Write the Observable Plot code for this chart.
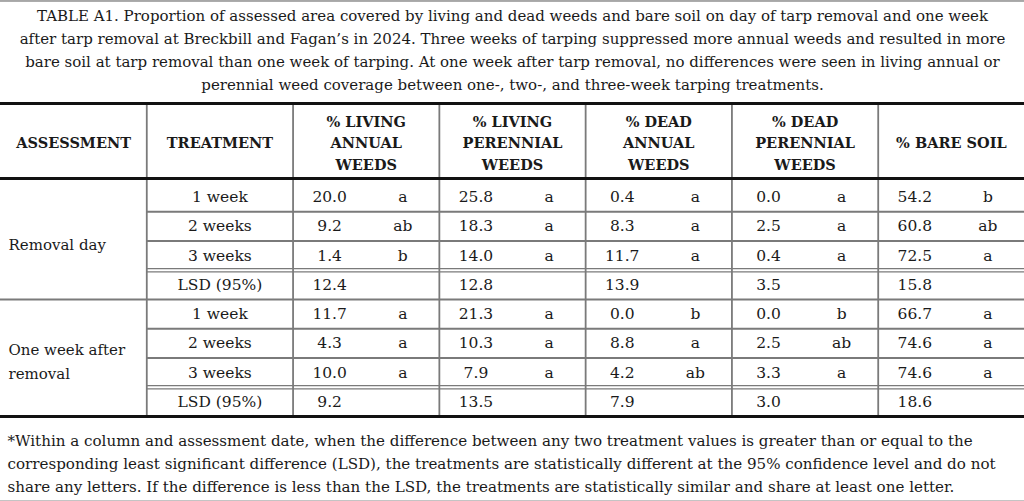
<!DOCTYPE html>
<html>
<head>
<meta charset="utf-8">
<script src="https://cdn.jsdelivr.net/npm/d3@7"></script>
<script src="https://cdn.jsdelivr.net/npm/@observablehq/plot@0.6"></script>
<style>
  html, body { margin: 0; padding: 0; background: #fff; }
  svg { display: block; }
</style>
</head>
<body>
<div id="chart"></div>
<script>
// ---------- data ----------
const titleLines = [
  "TABLE A1. Proportion of assessed area covered by living and dead weeds and bare soil on day of tarp removal and one week",
  "after tarp removal at Breckbill and Fagan\u2019s in 2024. Three weeks of tarping suppressed more annual weeds and resulted in more",
  "bare soil at tarp removal than one week of tarping. At one week after tarp removal, no differences were seen in living annual or",
  "perennial weed coverage between one-, two-, and three-week tarping treatments."
];
const footnoteLines = [
  "*Within a column and assessment date, when the difference between any two treatment values is greater than or equal to the",
  "corresponding least significant difference (LSD), the treatments are statistically different at the 95% confidence level and do not",
  "share any letters. If the difference is less than the LSD, the treatments are statistically similar and share at least one letter."
];
const columnHeaders = [
  "ASSESSMENT",
  "TREATMENT",
  "% LIVING\nANNUAL\nWEEDS",
  "% LIVING\nPERENNIAL\nWEEDS",
  "% DEAD\nANNUAL\nWEEDS",
  "% DEAD\nPERENNIAL\nWEEDS",
  "% BARE SOIL"
];
const assessments = ["Removal day", "One week after\nremoval"];
const treatments = ["1 week", "2 weeks", "3 weeks", "LSD (95%)"];

// rows: Removal day (1w, 2w, 3w, LSD), One week after (1w, 2w, 3w, LSD)
const livingAnnual        = [20.0, 9.2, 1.4, 12.4, 11.7, 4.3, 10.0, 9.2];
const livingAnnualLetters = ["a", "ab", "b", "", "a", "a", "a", ""];
const livingPerennial        = [25.8, 18.3, 14.0, 12.8, 21.3, 10.3, 7.9, 13.5];
const livingPerennialLetters = ["a", "a", "a", "", "a", "a", "a", ""];
const deadAnnual        = [0.4, 8.3, 11.7, 13.9, 0.0, 8.8, 4.2, 7.9];
const deadAnnualLetters = ["a", "a", "a", "", "b", "a", "ab", ""];
const deadPerennial        = [0.0, 2.5, 0.4, 3.5, 0.0, 2.5, 3.3, 3.0];
const deadPerennialLetters = ["a", "a", "a", "", "b", "ab", "a", ""];
const bareSoil        = [54.2, 60.8, 72.5, 15.8, 66.7, 74.6, 74.6, 18.6];
const bareSoilLetters = ["b", "ab", "a", "", "a", "a", "a", ""];

// ---------- layout ----------
const W = 1024, H = 501;
const nCols = columnHeaders.length;
const colLeft = i => i * W / nCols;
const colW = W / nCols;
const tableTop = 103, headBottom = 178, tableBottom = 416;
const rowH = 29.25;
const rowTop = i => tableBottom - (8 - i) * rowH;
const rowMid = i => (rowTop(i) + rowTop(i + 1)) / 2;

const serif = "DejaVu Serif";
const ink = "#1a1a1a";
const grid = "#7a7a7a";

const measures = [
  [livingAnnual, livingAnnualLetters],
  [livingPerennial, livingPerennialLetters],
  [deadAnnual, deadAnnualLetters],
  [deadPerennial, deadPerennialLetters],
  [bareSoil, bareSoilLetters]
];

const cells = [];
measures.forEach(([vals, lets], m) => {
  vals.forEach((v, i) => {
    cells.push({x: colLeft(m + 2) + colW / 4, y: rowMid(i), text: v.toFixed(1)});
    if (lets[i]) cells.push({x: colLeft(m + 2) + colW * 3 / 4, y: rowMid(i), text: lets[i]});
  });
});
const treatCells = [];
assessments.forEach((a, g) => treatments.forEach((t, r) =>
  treatCells.push({x: colLeft(1) + colW / 2, y: rowMid(g * 4 + r), text: t})));
const assessCells = assessments.map((a, g) => ({x: 8, y: (rowTop(g * 4) + rowTop(g * 4 + 4)) / 2 + 1, text: a}));
const headCells = columnHeaders.map((h, i) => ({x: colLeft(i) + colW / 2, y: (tableTop + headBottom) / 2 + 0.5, text: h}));
const titleCells = titleLines.map((t, i) => ({x: W / 2, y: 16 + i * 23, text: t}));
const footCells = footnoteLines.map((t, i) => ({x: 7, y: 441 + i * 23, text: t}));

// horizontal rules
const thinRows = [], doubleRows = [];
[0, 1].forEach(g => {
  thinRows.push(rowTop(g * 4 + 1), rowTop(g * 4 + 2));
  doubleRows.push(rowTop(g * 4 + 3));
});
const verticals = d3.range(1, nCols).map(colLeft);

const chart = Plot.plot({
  width: W, height: H,
  margin: 0,
  x: {domain: [0, W], range: [0, W], axis: null},
  y: {domain: [0, H], range: [0, H], axis: null},
  style: {background: "#fff"},
  marks: [
    // frame lines top/bottom of picture
    Plot.ruleY([0.5], {x1: 0, x2: W, stroke: "#555", strokeWidth: 1}),
    Plot.ruleY([H - 0.5], {x1: 0, x2: W, stroke: "#888", strokeWidth: 1}),
    // verticals
    Plot.ruleX(verticals, {y1: tableTop, y2: tableBottom, stroke: grid, strokeWidth: 1.8}),
    // row separators
    Plot.ruleY(thinRows, {x1: colLeft(1), x2: W, stroke: grid, strokeWidth: 1.8}),
    Plot.ruleY(doubleRows.map(d => d - 1.6), {x1: colLeft(1), x2: W, stroke: grid, strokeWidth: 1.3}),
    Plot.ruleY(doubleRows.map(d => d + 1.6), {x1: colLeft(1), x2: W, stroke: grid, strokeWidth: 1.3}),
    Plot.ruleY([rowTop(4)], {x1: 0, x2: W, stroke: grid, strokeWidth: 1.8}),
    // heavy rules
    Plot.ruleY([tableTop, headBottom, tableBottom], {x1: 0, x2: W, stroke: "#111", strokeWidth: 3}),
    // title
    Plot.text(titleCells, {x: "x", y: "y", text: "text", fontFamily: serif, fontSize: 15, fill: ink}),
    // header
    Plot.text(headCells, {x: "x", y: "y", text: "text", fontFamily: serif, fontWeight: "bold", fontSize: 14.5, lineHeight: 1.5, fill: ink}),
    // body
    Plot.text(assessCells, {x: "x", y: "y", text: "text", textAnchor: "start", fontFamily: serif, fontSize: 15, lineHeight: 1.6, fill: ink}),
    Plot.text(treatCells, {x: "x", y: "y", text: "text", fontFamily: serif, fontSize: 15.5, fill: ink}),
    Plot.text(cells, {x: "x", y: "y", text: "text", fontFamily: serif, fontSize: 15.5, fill: ink}),
    // footnote
    Plot.text(footCells, {x: "x", y: "y", text: "text", textAnchor: "start", fontFamily: serif, fontSize: 15.1, fill: ink})
  ]
});
document.getElementById("chart").appendChild(chart);
</script>
</body>
</html>
